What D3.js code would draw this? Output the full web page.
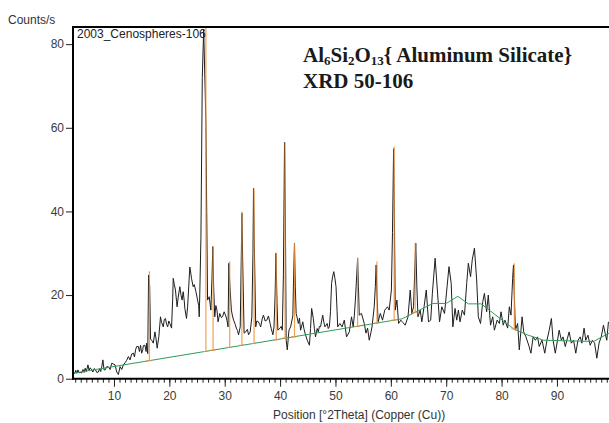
<!DOCTYPE html>
<html><head><meta charset="utf-8">
<script src="https://cdn.jsdelivr.net/npm/d3@7"></script>
<style>body{margin:0;background:#fff;overflow:hidden}</style>
</head><body><svg id="c" width="609" height="423"></svg>
<script>
// ---- data ----
const scanAngle = [2.6,2.9,3.1,3.3,3.5,3.7,3.9,4.2,4.4,4.6,4.8,5.0,5.3,5.5,5.7,6.0,6.2,6.4,6.6,6.9,7.2,7.4,7.6,7.8,8.0,8.2,8.4,8.7,9.0,9.3,9.6,9.9,10.2,10.5,10.8,11.1,11.4,11.7,12.0,12.3,12.6,12.9,13.2,13.5,13.7,13.9,14.1,14.4,14.6,14.8,15.0,15.2,15.3,15.6,15.8,15.9,16.1,16.25,16.45,16.6,16.8,17.1,17.4,17.6,17.8,18.1,18.4,18.6,18.9,19.1,19.3,19.5,19.7,19.9,20.1,20.4,20.6,20.7,20.9,21.1,21.3,21.4,21.6,21.9,22.1,22.3,22.5,22.7,22.8,23.1,23.3,23.5,23.7,23.9,24.0,24.3,24.5,24.8,25.1,25.3,25.4,25.5,25.7,25.95,26.2,26.45,26.6,26.75,26.9,27.2,27.5,27.7,27.85,28.0,28.2,28.4,28.6,28.8,29.1,29.4,29.6,29.9,30.2,30.4,30.6,30.75,30.95,31.2,31.4,31.6,31.9,32.1,32.3,32.5,32.8,33.0,33.1,33.25,33.5,33.8,34.1,34.3,34.6,34.9,35.1,35.2,35.35,35.6,35.8,36.1,36.3,36.5,36.8,37.0,37.3,37.6,37.9,38.2,38.4,38.7,38.9,39.1,39.25,39.45,39.6,40.0,40.2,40.4,40.6,40.8,40.95,41.1,41.3,41.6,41.9,42.3,42.45,42.6,42.75,42.9,43.1,43.3,43.5,43.7,44.1,44.3,44.5,44.9,45.3,45.5,45.7,46.0,46.2,46.4,46.7,46.9,47.1,47.3,47.7,47.9,48.1,48.5,48.7,48.9,49.1,49.3,49.5,49.7,49.9,50.1,50.3,50.4,50.8,51.2,51.6,52.0,52.5,52.9,53.2,53.4,53.6,53.85,54.0,54.15,54.3,54.7,55.2,55.5,55.8,56.1,56.4,56.6,57.0,57.2,57.35,57.5,57.7,58.1,58.5,58.9,59.4,59.7,60.1,60.3,60.5,60.65,60.8,61.1,61.4,61.8,62.2,62.6,63.1,63.5,63.8,64.1,64.3,64.5,64.7,64.9,65.3,65.6,66.0,66.4,66.8,67.2,67.5,68.0,68.4,68.8,69.2,69.7,70.1,70.5,70.9,71.2,71.6,71.9,72.2,72.5,72.9,73.3,73.7,74.0,74.4,74.7,75.1,75.5,75.8,76.2,76.6,76.9,77.3,77.6,78.0,78.4,78.7,79.2,79.6,79.9,80.3,80.6,81.1,81.4,81.7,82.0,82.15,82.3,82.5,82.9,83.2,83.7,84.0,84.4,84.9,85.3,85.7,86.1,86.5,86.8,87.3,87.8,88.2,88.6,89.0,89.3,89.7,90.1,90.4,90.8,91.1,91.5,91.9,92.2,92.6,93.0,93.4,93.8,94.2,94.5,94.9,95.2,95.6,96.0,96.4,96.8,97.2,97.6,98.0,98.4,98.7,99.0,99.3];
const scanCounts = [1.6,1.2,2.0,1.3,2.1,1.4,1.5,1.4,2.2,1.5,2.5,1.7,3.3,2.0,2.6,2.1,1.6,2.4,2.3,1.5,1.6,2.4,1.7,2.9,4.5,2.1,2.1,2.9,2.8,2.2,3.7,3.5,3.3,1.6,1.0,2.9,2.2,3.3,3.8,4.4,5.3,4.5,5.9,6.1,5.2,6.9,7.7,7.7,6.5,8.0,6.1,6.9,7.9,8.0,6.5,8.5,6.0,24.8,22,9.5,9.2,8.5,11.2,9.5,7.3,10,14.8,13.5,12.4,14.2,14.4,13.0,12.4,13.8,13.2,12.1,19,24,22.5,21.2,18.5,17.2,19.5,22,20.0,18.8,20.8,18.5,16.8,14.4,17.2,22,26.7,25,24,22,22.5,20.8,18.8,17.5,14.8,20.5,33.6,72,83.5,70,61.3,40,18.8,19.6,16.4,24,31.6,22,14.8,17.5,16.4,13.6,15.6,14.6,14.8,16.0,15.0,14.0,12.4,27.6,22,16.4,15.0,14.0,13.0,12.1,11.5,10.5,12.4,30,39.6,28,10.9,11.2,11.8,10.5,11.2,14.8,30,45.5,32,12.4,13.8,13.6,13.0,12.4,14.5,15.2,13.8,14.0,15.0,13.2,12.0,10.5,12.4,20,30,18,11.6,12.1,12.5,11.6,25,56.5,40,9.2,6.9,11.6,12.4,15,25,32.4,22,15.6,14.5,13.2,14.5,11.6,13.6,12.0,10.9,9.2,8.0,12,16.8,14.4,12.0,10.0,12.0,11.2,12.5,12.4,15.2,13.5,12.4,13.2,12.0,12.4,16,22.8,24.5,25.6,24,22.0,16,12.4,13.2,12.4,14.0,10.0,11.2,14.8,12.4,15,18.8,25,28.8,22,15.2,15.6,13.2,10.9,12.1,9.2,11,12.4,17.2,22,27.2,20,13.6,15.6,14.0,16.4,17.2,16.4,21.2,35,55,38,16.4,18.8,13.2,14.0,13.4,12.8,14.8,21.2,15.6,17.2,25,32.4,22,14.8,16.4,13.6,17.2,21.2,13.6,14.0,20.4,28.8,21.2,13.6,17.2,15.6,21.2,26.8,22.8,12.4,16.8,14.0,16.4,13.6,16.4,15.2,22.8,27.6,24.4,28.4,31.2,23.6,14.8,13.2,18.4,20.4,16.0,20.0,12.8,14.8,11.6,14.0,13.2,16.0,12.8,14.0,12.1,17.2,15.2,24,27.2,20,11.6,13.2,6.9,14.8,11.2,10.0,8.0,6.1,10.0,9.2,10.0,7.7,9.2,6.1,9.2,11.6,14.4,9.2,6.1,9.2,11.6,9.2,10.0,7.7,9.7,11.2,8.5,9.2,6.1,9.2,10.0,8.5,12.1,9.2,10.4,8.0,9.2,8.5,4.9,8.5,10.0,12.8,10.9,9.2,13.6];

const bgAngle  = [2.6, 62.0, 67.6, 70.0, 72.1, 74.0, 76.3, 82.2, 84.6, 87.6, 96.6, 99.4];
const bgCounts = [1.3, 14.3, 18.0, 18.0, 19.7, 17.9, 17.9, 11.9, 10.5, 9.2, 8.9, 10.9];

const refAngle = [16.4, 26.6, 27.9, 30.9, 33.1, 35.3, 39.3, 40.9, 42.6, 54.0, 57.5, 60.6, 64.4, 82.3];
const refTop   = [25.7, 84.0, 31.7, 28.0, 40.0, 45.5, 30.1, 56.5, 32.4, 29.0, 28.0, 55.5, 32.4, 27.6];
const refBase  = [4.3, 6.5, 6.8, 7.5, 8.0, 8.4, 9.3, 9.7, 10.0, 12.5, 13.3, 14.0, 15.9, 11.9];

const xMajorTicks = [10, 20, 30, 40, 50, 60, 70, 80, 90];
const yTicks = [0, 20, 40, 60, 80];

// ---- drawing ----
const svg = d3.select("#c");
const L = 73, R = 609, T = 27, B = 378.7;
const x = d3.scaleLinear().domain([2.6, 99.4]).range([L, R]);
const y = d3.scaleLinear().domain([0, 84.1]).range([B, T]);
const font = "Arial, 'Liberation Sans', sans-serif";

svg.append("clipPath").attr("id","pc").append("rect")
  .attr("x", L).attr("y", T).attr("width", R - L).attr("height", B - T);

const plot = svg.append("g").attr("clip-path","url(#pc)");

const scan = scanAngle.map((a,i)=>[a, scanCounts[i]]);
const bg = bgAngle.map((a,i)=>[a, bgCounts[i]]);
const line = d3.line().x(d=>x(d[0])).y(d=>y(d[1]));

plot.append("path").datum(scan).attr("d", line)
  .attr("fill","none").attr("stroke","#1e1e1e").attr("stroke-width",1);

plot.append("path").datum(bg).attr("d", line)
  .attr("fill","none").attr("stroke","#2f9a5c").attr("stroke-width",1);

const refs = refAngle.map((a,i)=>({a, top: refTop[i], base: refBase[i]}));
plot.selectAll("line.stick").data(refs).enter().append("line").attr("class","stick")
  .attr("x1", d=>x(d.a)).attr("x2", d=>x(d.a))
  .attr("y1", d=>y(d.base)).attr("y2", d=>y(d.top))
  .attr("stroke","#f0903a").attr("stroke-opacity",0.85).attr("stroke-width",1.2);
plot.selectAll("line.base").data(refs).enter().append("line").attr("class","base")
  .attr("x1", d=>x(d.a)-3).attr("x2", d=>x(d.a)+2)
  .attr("y1", d=>y(d.base)).attr("y2", d=>y(d.base))
  .attr("stroke","#f0903a").attr("stroke-width",1);

// axes
const xAxis = d3.axisBottom(x).tickValues(xMajorTicks).tickSize(8).tickFormat(d3.format("d"));
const xMinor = d3.axisBottom(x).tickValues(d3.range(3, 100, 1)).tickSize(4).tickFormat("");
const yAxis = d3.axisLeft(y).tickValues(yTicks).tickSize(7).tickFormat(d3.format("d"));

const gxm = svg.append("g").attr("transform",`translate(0,${B})`).call(xMinor);
const gx = svg.append("g").attr("transform",`translate(0,${B})`).call(xAxis);
const gy = svg.append("g").attr("transform",`translate(${L},0)`).call(yAxis);
[gx, gxm, gy].forEach(g=>{
  g.select(".domain").remove();
  g.selectAll(".tick line").attr("stroke","#222").attr("stroke-width",1);
  g.selectAll("text").attr("font-family", font).attr("font-size", 12).attr("fill","#3a3a3a");
});
gx.selectAll("text").attr("dy", "0.75em").attr("y", 12);
gy.selectAll("text").attr("x", -9);

// frame lines
svg.append("line").attr("x1", L).attr("x2", L).attr("y1", T).attr("y2", B+1)
  .attr("stroke","#000").attr("stroke-width",2);
svg.append("line").attr("x1", L-1).attr("x2", R).attr("y1", B).attr("y2", B)
  .attr("stroke","#000").attr("stroke-width",2);
svg.append("line").attr("x1", L-1).attr("x2", R).attr("y1", T).attr("y2", T)
  .attr("stroke","#000").attr("stroke-width",2);

// texts
svg.append("text").attr("x", 8).attr("y", 24).text("Counts/s")
  .attr("font-family", font).attr("font-size", 12).attr("fill","#333");
svg.append("text").attr("x", 77).attr("y", 38).text("2003_Cenospheres-106")
  .attr("font-family", font).attr("font-size", 12).attr("fill","#222");
svg.append("text").attr("x", 273).attr("y", 419).text("Position [°2Theta] (Copper (Cu))")
  .attr("font-family", font).attr("font-size", 12).attr("fill","#333");

const serif = "'Liberation Serif', 'Times New Roman', serif";
const titleY = 62;
const t1 = svg.append("text").attr("x", 303).attr("y", titleY)
  .attr("font-family", serif).attr("font-weight","bold").attr("fill","#1a1a1a");
const parts = [["Al",0],["6",1],["Si",0],["2",1],["O",0],["13",1],["{ Aluminum Silicate}",0]];
parts.forEach(p=>{
  t1.append("tspan").text(p[0])
    .attr("font-size", p[1] ? 13 : 21)
    .attr("y", p[1] ? titleY + 3 : titleY);
});
svg.append("text").attr("x", 303).attr("y", 88).text("XRD 50-106")
  .attr("font-family", serif).attr("font-size", 21).attr("font-weight","bold").attr("fill","#1a1a1a");
</script></body></html>
